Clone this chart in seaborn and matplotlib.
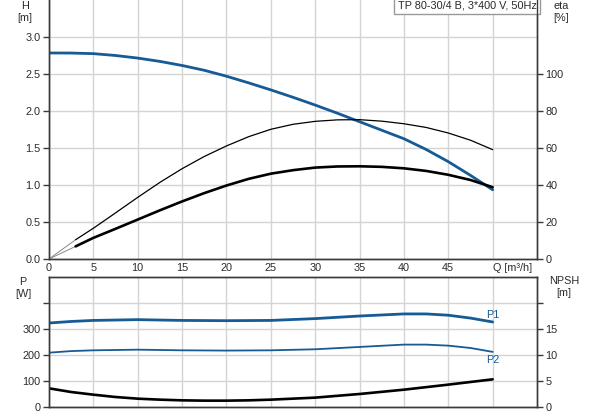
import matplotlib.pyplot as plt
import numpy as np
import pandas as pd
import seaborn as sns

# pump curve data
q_head = [0, 2.5, 5, 7.5, 10, 12.5, 15, 17.5, 20, 22.5, 25, 27.5, 30, 32.5, 35, 37.5, 40, 42.5, 45, 47.5, 50]
head = [2.784, 2.783, 2.775, 2.75, 2.715, 2.67, 2.615, 2.55, 2.47, 2.38, 2.285, 2.185, 2.08, 1.97, 1.855,
        1.74, 1.625, 1.48, 1.315, 1.13, 0.935]

q_eta = [3, 5, 7.5, 10, 12.5, 15, 17.5, 20, 22.5, 25, 27.5, 30, 32.5, 35, 37.5, 40, 42.5, 45, 47.5, 50]
eta_pump = [10.4, 16.6, 24.9, 33.3, 41.4, 48.8, 55.4, 61.1, 66.1, 70.1, 72.8, 74.4, 75.2, 75.3,
            74.5, 73.1, 71.1, 68.1, 64.2, 59.1]
eta_total = [6.8, 11.4, 16.3, 21.3, 26.3, 31.1, 35.6, 39.7, 43.3, 46.1, 48.0, 49.4, 50.0, 50.1,
             49.8, 49.0, 47.6, 45.5, 42.7, 38.8]

q_power = [0, 2.5, 5, 10, 15, 20, 25, 30, 35, 40, 42.5, 45, 47.5, 50]
p1 = [323, 329, 333, 336, 333, 332, 333, 340, 350, 358, 358, 353, 342, 327]
p2 = [209, 215, 218, 220.5, 218, 217, 218, 222, 231, 240, 240, 236, 227, 212]

q_npsh = [0, 2.5, 5, 7.5, 10, 12.5, 15, 17.5, 20, 22.5, 25, 30, 35, 40, 45, 50]
npsh = [3.59, 2.88, 2.37, 1.92, 1.6, 1.41, 1.28, 1.22, 1.22, 1.28, 1.41, 1.8, 2.5, 3.33, 4.3, 5.32]

x_ticks = [0, 5, 10, 15, 20, 25, 30, 35, 40, 45, 50]
x_labels = ["0", "5", "10", "15", "20", "25", "30", "35", "40", "45", "Q [m³/h]"]

sns.set_style("white")
plt.rcParams["font.family"] = ["Liberation Sans", "DejaVu Sans"]
fs = 7.8

blue = "#165a96"
grid_c = "#d4d4d4"
spine_c = "#3a3a3a"
txt_c = "#2a2a2a"

fig = plt.figure(figsize=(5.93, 4.15), dpi=100)
ax_h = fig.add_axes([0.0826, 0.376, 0.823, 0.624])
ax_p = fig.add_axes([0.0826, 0.0193, 0.823, 0.3132])
ax_eta = ax_h.twinx()
ax_npsh = ax_p.twinx()

# upper chart: head and efficiency
sns.lineplot(x=q_head, y=head, ax=ax_h, color=blue, linewidth=2.0)
sns.lineplot(x=[0, q_eta[0]], y=[0, eta_pump[0]], ax=ax_eta, color="#888888", linewidth=0.7)
sns.lineplot(x=[0, q_eta[0]], y=[0, eta_total[0]], ax=ax_eta, color="#888888", linewidth=0.7)
sns.lineplot(x=q_eta, y=eta_pump, ax=ax_eta, color="black", linewidth=0.9)
sns.lineplot(x=q_eta, y=eta_total, ax=ax_eta, color="black", linewidth=1.9)

# lower chart: power and NPSH
sns.lineplot(x=q_power, y=p1, ax=ax_p, color=blue, linewidth=2.0)
sns.lineplot(x=q_power, y=p2, ax=ax_p, color=blue, linewidth=1.3)
sns.lineplot(x=q_npsh, y=npsh, ax=ax_npsh, color="black", linewidth=1.9)

for ax in (ax_h, ax_p):
    ax.set_xlim(0, 55)
    ax.set_xticks(x_ticks)
    ax.grid(True, color=grid_c, linewidth=1.0)
    ax.set_axisbelow(True)

ax_h.set_ylim(0, 3.5)
ax_h.set_yticks([0, 0.5, 1.0, 1.5, 2.0, 2.5, 3.0])
ax_h.set_yticklabels(["0.0", "0.5", "1.0", "1.5", "2.0", "2.5", "3.0"])
ax_h.set_xticklabels(x_labels)
ax_h.get_xticklabels()[-1].set_horizontalalignment("left")

ax_eta.set_ylim(0, 140)
ax_eta.set_yticks([0, 20, 40, 60, 80, 100])

ax_p.set_ylim(0, 500)
ax_p.set_yticks([0, 100, 200, 300, 400])
ax_p.set_yticklabels(["0", "100", "200", "300", ""])
ax_p.set_xticklabels([])

ax_npsh.set_ylim(0, 25)
ax_npsh.set_yticks([0, 5, 10, 15, 20])
ax_npsh.set_yticklabels(["0", "5", "10", "15", ""])

for ax in (ax_h, ax_p, ax_eta, ax_npsh):
    ax.set_xlabel("")
    ax.set_ylabel("")
    for s in ax.spines.values():
        s.set_color(spine_c)
        s.set_linewidth(1.0)
    ax.tick_params(axis="y", direction="out", length=4, width=1.0, color=spine_c,
                   labelcolor=txt_c, labelsize=fs, pad=2)
    ax.tick_params(axis="x", length=0, labelcolor=txt_c, labelsize=fs, pad=3)

ax_h.spines["top"].set_visible(False)
ax_eta.spines["top"].set_visible(False)

ax_p.text(50, 352, "P1", color=blue, ha="center", va="center", fontsize=fs)
ax_p.text(50, 180, "P2", color=blue, ha="center", va="center", fontsize=fs)

ax_h.text(0.999, 0.999, "TP 80-30/4 B, 3*400 V, 50Hz", transform=ax_h.transAxes,
          ha="right", va="top", fontsize=fs, color=txt_c,
          bbox=dict(boxstyle="square,pad=0.3", facecolor="white", edgecolor="#999999", linewidth=1.0))

fig.text(25 / 593, 1 - 1 / 415, "H\n[m]", ha="center", va="top", color=txt_c, fontsize=fs, linespacing=1.3)
fig.text(561 / 593, 1 - 1 / 415, "eta\n[%]", ha="center", va="top", color=txt_c, fontsize=fs, linespacing=1.3)
fig.text(23 / 593, 1 - 277 / 415, "P\n[W]", ha="center", va="top", color=txt_c, fontsize=fs, linespacing=1.3)
fig.text(564 / 593, 1 - 276 / 415, "NPSH\n[m]", ha="center", va="top", color=txt_c, fontsize=fs, linespacing=1.3)

fig.savefig("out.png", dpi=100)
